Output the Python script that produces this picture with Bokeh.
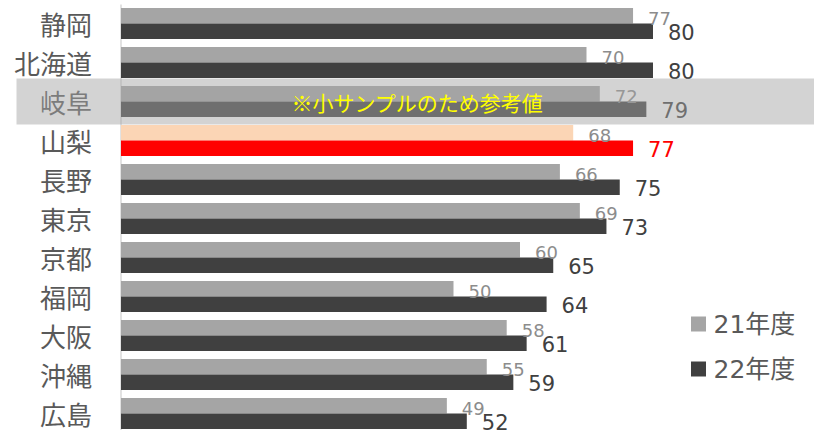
from bokeh.plotting import figure
from bokeh.models import ColumnDataSource, Range1d, BoxAnnotation, Label
from bokeh.core.properties import value
from bokeh.embed import file_html
from bokeh.resources import INLINE

# ---- data ----
categories = ["静岡", "北海道", "岐阜", "山梨", "長野", "東京", "京都", "福岡", "大阪", "沖縄", "広島"]
fy21 = [77, 70, 72, 68, 66, 69, 60, 50, 58, 55, 49]
fy22 = [80, 80, 79, 77, 75, 73, 65, 64, 61, 59, 52]
series_names = ["21年度", "22年度"]
highlight = "山梨"
reference_only = "岐阜"
note_text = "※小サンプルのため参考値"

# ---- layout constants ----
W, H = 814, 430
X0_PX = 120.5
PX_PER_UNIT = 6.65
ROW0_PX = 23
ROW_PX = 39
FONT = "Noto Sans CJK JP"
NUM_FONT = "DejaVu Sans, Noto Sans CJK JP"

x_start = -X0_PX / PX_PER_UNIT
x_end = (W - X0_PX) / PX_PER_UNIT
y_top = -ROW0_PX / ROW_PX
y_bottom = (H - ROW0_PX) / ROW_PX

def px_to_x(px):
    return (px - X0_PX) / PX_PER_UNIT

def px_to_y(py):
    return (py - ROW0_PX) / ROW_PX

p = figure(width=W, height=H, x_range=Range1d(x_start, x_end),
           y_range=Range1d(y_bottom, y_top), output_backend="svg",
           toolbar_location=None, min_border=0,
           x_axis_location=None, y_axis_location=None)
p.grid.visible = False
p.outline_line_color = None
p.background_fill_color = "white"

idx = list(range(len(categories)))
c21 = ["#fbd5b5" if c == highlight else "#a5a5a5" for c in categories]
c22 = ["#ff0000" if c == highlight else "#404040" for c in categories]
t22c = ["#ff0000" if c == highlight else "#404040" for c in categories]

src = ColumnDataSource(dict(
    cat=categories,
    y=idx,
    y21=[i - 0.2 for i in idx],
    y22=[i + 0.2 for i in idx],
    ly21=[i - 0.13 for i in idx],
    ly22=[i + 0.23 for i in idx],
    v21=fy21,
    v22=fy22,
    t21=[str(v) for v in fy21],
    t22=[str(v) for v in fy22],
    c21=c21,
    c22=c22,
    t22c=t22c,
))

# axis line
p.segment(x0=0, y0=px_to_y(4), x1=0, y1=y_bottom + 1, line_color="#d9d9d9", line_width=1.5)

# bars
p.hbar(y="y21", left=0, right="v21", height=0.4, fill_color="c21", line_color=None, source=src)
p.hbar(y="y22", left=0, right="v22", height=0.4, fill_color="c22", line_color=None, source=src)

# value labels
p.text(x="v21", y="ly21", text="t21", x_offset=15, text_align="left", text_baseline="middle",
       text_font=value(NUM_FONT), text_font_size="18px", text_color="#8c8c8c", source=src)
p.text(x="v22", y="ly22", text="t22", x_offset=15, text_align="left", text_baseline="middle",
       text_font=value(NUM_FONT), text_font_size="21px", text_color="t22c", source=src)

# category labels
p.text(x=0, y="y", text="cat", x_offset=-29, text_align="right", text_baseline="middle",
       text_font=value(FONT), text_font_size="26px", text_color="#595959", source=src)

# legend (manual)
leg_y = [px_to_y(323.5), px_to_y(368.5)]
leg_x = [px_to_x(698), px_to_x(698)]
p.scatter(x=leg_x, y=leg_y, marker="square", size=15, color=["#a5a5a5", "#404040"], line_color=None)
p.text(x=leg_x, y=leg_y, text=series_names, x_offset=15, text_align="left", text_baseline="middle",
       text_font=value(NUM_FONT), text_font_size="25px", text_color="#595959")

# reference-only overlay band
ri = categories.index(reference_only)
band = BoxAnnotation(left=px_to_x(16), right=x_end + 5, top=ri - 0.59, bottom=ri + 0.59,
                     fill_color="#a4a4a4", fill_alpha=0.48, line_color=None)
p.add_layout(band)
note = Label(x=px_to_x(417), y=ri, text=note_text, text_align="center", text_baseline="middle",
             text_color="#ffff00", text_font_size="21px", text_font=FONT)
p.add_layout(note)

open("out.html", "w").write(file_html(p, INLINE))
